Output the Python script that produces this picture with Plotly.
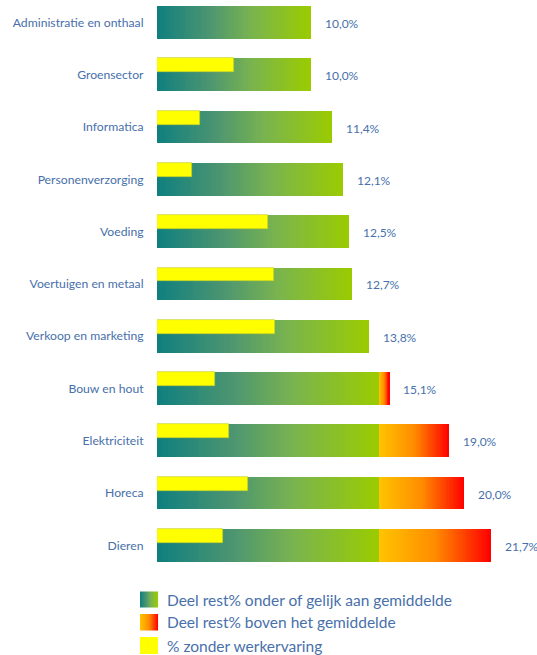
import plotly.graph_objects as go

categories = ["Administratie en onthaal", "Groensector", "Informatica", "Personenverzorging",
              "Voeding", "Voertuigen en metaal", "Verkoop en marketing", "Bouw en hout",
              "Elektriciteit", "Horeca", "Dieren"]
rest_pct = [10.0, 10.0, 11.4, 12.1, 12.5, 12.7, 13.8, 15.1, 19.0, 20.0, 21.7]
zonder_werkervaring = [0.0, 5.0, 2.8, 2.3, 7.2, 7.6, 7.7, 3.8, 4.7, 5.9, 4.3]
gemiddelde = 14.45

legend_labels = ["Deel rest% onder of gelijk aan gemiddelde",
                 "Deel rest% boven het gemiddelde",
                 "% zonder werkervaring"]

W, H = 537, 655
PL, PR, PT, PB = 157, 0, 0, 80
PW, PH = W - PL - PR, H - PT - PB
PX_PER_UNIT = 15.37
ROW0, ROWSTEP = 22.5, 52.28
BARW = 0.625
TXT = "#4870AA"
FONT = "Lato"

green_stops = [(0.0, (15, 127, 127)), (0.35, (78, 150, 112)), (0.62, (122, 180, 78)), (1.0, (155, 204, 0))]
orange_stops = [(0.0, (255, 196, 0)), (0.5, (255, 140, 0)), (1.0, (255, 0, 0))]


def grad(stops, t):
    for (t0, c0), (t1, c1) in zip(stops[:-1], stops[1:]):
        if t <= t1:
            f = 0 if t1 == t0 else (t - t0) / (t1 - t0)
            return "rgb(%d,%d,%d)" % tuple(round(a + (b - a) * f) for a, b in zip(c0, c1))
    return "rgb(%d,%d,%d)" % stops[-1][1]


idx = list(range(len(categories)))
green_len = [min(v, gemiddelde) for v in rest_pct]
orange_len = [max(v - gemiddelde, 0) for v in rest_pct]

fig = go.Figure()
N = 60
for k in range(N):
    t = k / N
    fig.add_trace(go.Bar(
        y=idx, x=[g * (1 - t) for g in green_len], base=[g * t for g in green_len],
        orientation="h", width=BARW, marker=dict(color=grad(green_stops, (k + 0.5) / N), line=dict(width=0)),
        showlegend=False, hoverinfo="skip"))
for k in range(N):
    t = k / N
    fig.add_trace(go.Bar(
        y=idx, x=[o * (1 - t) if o > 0 else None for o in orange_len],
        base=[gemiddelde + o * t for o in orange_len],
        orientation="h", width=BARW, marker=dict(color=grad(orange_stops, (k + 0.5) / N), line=dict(width=0)),
        showlegend=False, hoverinfo="skip"))
fig.add_trace(go.Bar(
    y=idx, x=[z if z > 0 else None for z in zonder_werkervaring], orientation="h",
    width=0.265, offset=-BARW / 2,
    marker=dict(color="#FFFF00", line=dict(width=0.7, color="rgba(190,205,40,0.9)")),
    showlegend=False, hoverinfo="skip"))

annotations = []
for i, v in enumerate(rest_pct):
    annotations.append(dict(x=v, y=i, xref="x", yref="y", xanchor="left", yanchor="middle",
                            xshift=12, yshift=-1, showarrow=False,
                            text=("%.1f" % v).replace(".", ",") + "%",
                            font=dict(family=FONT, size=12, color=TXT)))

# custom legend
def px2paper_x(px):
    return (px - PL) / PW


def px2paper_y(py):
    return (PT + PH - py) / PH


shapes = []
sw_x0, sw_x1 = 140, 158
rows = [(591.5, 607.5), (614, 630.5), (637, 654)]
for r, (y0, y1) in enumerate(rows):
    if r < 2:
        stops = green_stops if r == 0 else orange_stops
        steps = 18
        for s in range(steps):
            shapes.append(dict(type="rect", xref="paper", yref="paper",
                               x0=px2paper_x(sw_x0 + s * (sw_x1 - sw_x0) / steps),
                               x1=px2paper_x(sw_x0 + (s + 1.05) * (sw_x1 - sw_x0) / steps),
                               y0=px2paper_y(y1), y1=px2paper_y(y0),
                               fillcolor=grad(stops, (s + 0.5) / steps), line=dict(width=0), layer="above"))
    else:
        shapes.append(dict(type="rect", xref="paper", yref="paper",
                           x0=px2paper_x(sw_x0), x1=px2paper_x(sw_x1),
                           y0=px2paper_y(y1), y1=px2paper_y(y0),
                           fillcolor="#FFFF00", line=dict(width=0), layer="above"))
    annotations.append(dict(x=px2paper_x(165), y=px2paper_y((y0 + y1) / 2), xref="paper", yref="paper",
                            xanchor="left", yanchor="middle", showarrow=False, text=legend_labels[r],
                            font=dict(family=FONT, size=15.5, color=TXT)))

y_top = (0 - PT - ROW0) / ROWSTEP
y_bot = (PH - ROW0) / ROWSTEP

fig.update_layout(
    width=W, height=H, margin=dict(l=PL, r=PR, t=PT, b=PB),
    paper_bgcolor="white", plot_bgcolor="white", barmode="overlay", bargap=0,
    showlegend=False, shapes=shapes, annotations=annotations,
    xaxis=dict(range=[0, PW / PX_PER_UNIT], visible=False, fixedrange=True),
    yaxis=dict(range=[y_bot, y_top], tickmode="array", tickvals=idx, ticktext=categories,
               showgrid=False, zeroline=False, showline=False, ticks="outside", ticklen=10,
               tickcolor="rgba(0,0,0,0)", tickfont=dict(family=FONT, size=12.2, color=TXT), fixedrange=True),
)

fig.write_html("out.html", config={"displayModeBar": False},
               post_script="document.body.style.margin='0';document.body.style.padding='0';document.body.style.overflow='hidden';")
